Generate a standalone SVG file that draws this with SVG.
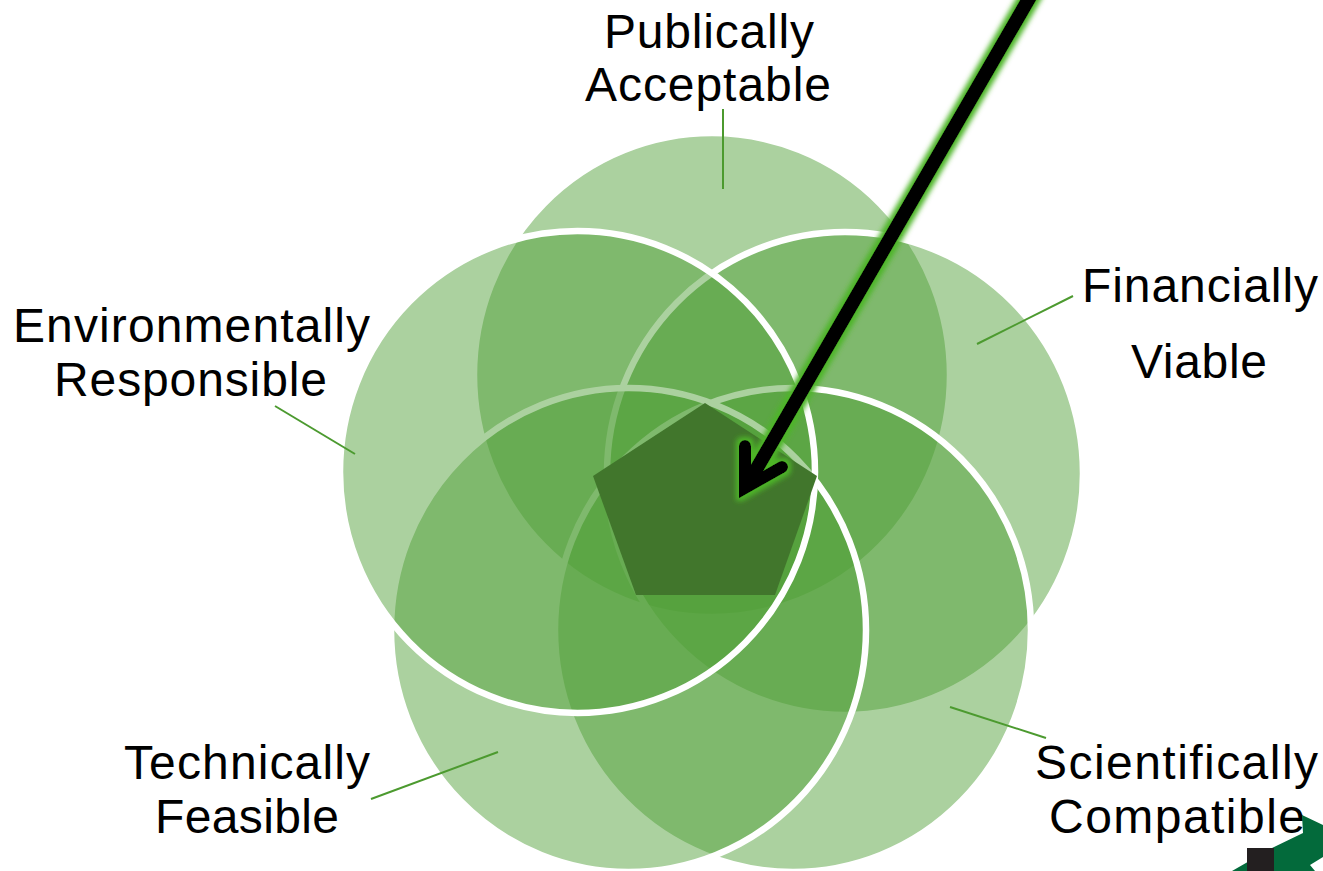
<svg xmlns="http://www.w3.org/2000/svg" width="1323" height="871" viewBox="0 0 1323 871">
<defs>
<style>
.o{fill:#4F9E36;fill-opacity:.48;stroke:#fff;stroke-width:6.500}
.t{font-family:"Liberation Sans",Arial,sans-serif;font-size:48px;fill:#000}
.l{stroke:#4C9A2F;stroke-width:2;fill:none}
.a{stroke:#000;stroke-width:14;fill:none;stroke-miterlimit:10}
</style>
<filter id="glow" filterUnits="userSpaceOnUse" x="700" y="-30" width="370" height="560">
<feMorphology in="SourceAlpha" operator="dilate" radius="2.500" result="d"/>
<feGaussianBlur in="d" stdDeviation="2.800" result="b"/>
<feFlood flood-color="#4DB528"/>
<feComposite in2="b" operator="in" result="g"/>
<feMerge><feMergeNode in="g"/><feMergeNode in="SourceGraphic"/></feMerge>
</filter>
</defs>
<rect width="1323" height="871" fill="#fff"/>
<g id="node-publically-acceptable">
<ellipse class="o" cx="712" cy="375" rx="238" ry="242"/>
<text class="t" x="604" y="48" textLength="210">Publically</text>
<text class="t" x="585" y="100.500" textLength="246">Acceptable</text>
</g>
<g id="node-financially-viable">
<ellipse class="o" cx="845" cy="473.500" rx="238" ry="241.500"/>
<text class="t" x="1082" y="302" textLength="236">Financially</text>
<text class="t" x="1131" y="378" textLength="136">Viable</text>
</g>
<g id="node-scientifically-compatible">
<ellipse class="o" cx="793" cy="630" rx="238" ry="242"/>
<text class="t" x="1035" y="779" textLength="283">Scientifically</text>
<text class="t" x="1049" y="833" textLength="256">Compatible</text>
</g>
<g id="node-technically-feasible">
<ellipse class="o" cx="628.500" cy="630" rx="237.500" ry="242"/>
<text class="t" x="124" y="779" textLength="246">Technically</text>
<text class="t" x="155" y="833" textLength="184">Feasible</text>
</g>
<g id="node-environmentally-responsible">
<ellipse class="o" cx="577.500" cy="472" rx="237.500" ry="241"/>
<text class="t" x="13" y="341.500" textLength="357">Environmentally</text>
<text class="t" x="54" y="395.500" textLength="273">Responsible</text>
</g>
<g id="node-center">
<polygon points="705,403 817,476 775,595 636,595 593,476" fill="#41762C"/>
</g>
<g id="connectors">
<line class="l" x1="723" y1="109" x2="723" y2="189"/>
<line class="l" x1="1073" y1="296" x2="977" y2="344"/>
<line class="l" x1="275" y1="406" x2="355" y2="454"/>
<line class="l" x1="950" y1="707" x2="1046" y2="738"/>
<line class="l" x1="371" y1="799" x2="498" y2="752"/>
<g filter="url(#glow)">
<line class="a" x1="1034" y1="-10" x2="746" y2="487"/>
<path class="a" style="stroke-width:12" d="M745,446 L745,488 L782,467" stroke-linecap="round"/>
</g>
</g>
<g id="corner-logo">
<polygon points="1232,871 1272,848 1303,833 1302,815 1323,825 1323,857 1310,865 1315,871" fill="#036A3B"/>
<rect x="1247" y="848" width="27" height="23" fill="#231F20"/>
</g>
</svg>
